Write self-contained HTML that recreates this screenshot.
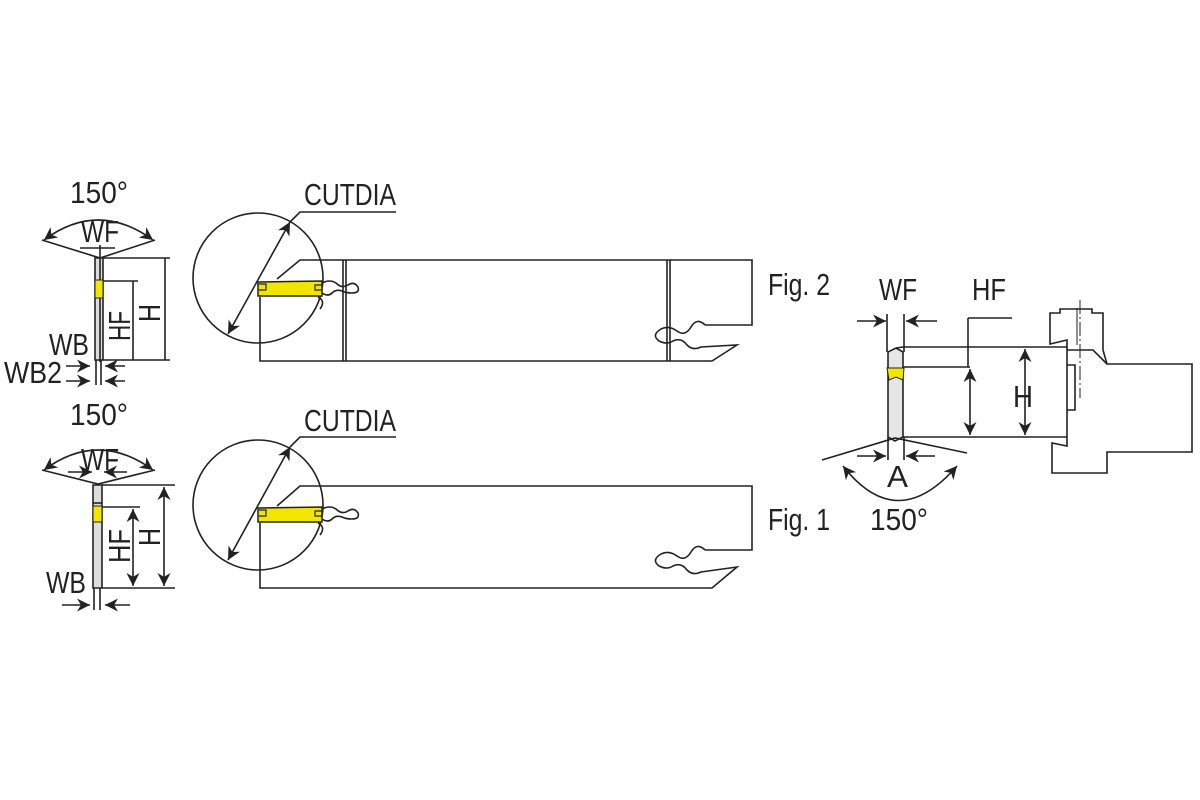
<!DOCTYPE html>
<html><head><meta charset="utf-8"><style>
html,body{margin:0;padding:0;background:#fff;}
svg{display:block}
text{font-family:"Liberation Sans",sans-serif;fill:#222;}
</style></head><body>
<svg width="1200" height="800" viewBox="0 0 1200 800" xmlns="http://www.w3.org/2000/svg">
<defs>
<marker id="a" viewBox="0 0 10 10" refX="10" refY="5" markerWidth="13" markerHeight="13" orient="auto-start-reverse" markerUnits="userSpaceOnUse"><path d="M0,0 L10,5 L0,10 L3,5z" fill="#222"/></marker>
</defs>
<g stroke="#222" stroke-width="1.6" fill="none">
<!-- ===== FIG 2 main ===== -->
<circle cx="258" cy="278" r="65"/>
<path d="M277,279 L300,260 L752,260 L752,325 L705,325"/>
<path d="M705,325 q-8,-8 -14,2 q-6,10 -14,4 q-8,-6 -16,-2 q-10,6 -2,12 q8,4 14,0 q8,-4 14,4 q6,6 14,2 L737,345 L712,361 L260,361 L260,297"/>
<path d="M343,260 V361 M346,260 V361 M667,260 V361 M670,260 V361"/>
<path d="M322,283 q8,-4 14,0 q6,6 12,2 q6,-4 10,2 q2,6 -6,6 q-6,0 -10,-2 q-6,-2 -10,2 q-4,4 -10,0"/>
<path d="M318,297 q8,4 2,12"/>
<line x1="228" y1="334" x2="290" y2="222" marker-start="url(#a)" marker-end="url(#a)"/>
<path d="M290,222 L300,212 L396,212"/>
<!-- ===== FIG 1 main ===== -->
<circle cx="258" cy="505" r="65"/>
<path d="M277,506 L300,486 L752,486 L752,550 L705,550"/>
<path d="M705,550 q-8,-8 -14,2 q-6,10 -14,4 q-8,-6 -16,-2 q-10,6 -2,12 q8,4 14,0 q8,-4 14,4 q6,6 14,2 L737,567 L712,588 L260,588 L260,523"/>
<path d="M322,509 q8,-4 14,0 q6,6 12,2 q6,-4 10,2 q2,6 -6,6 q-6,0 -10,-2 q-6,-2 -10,2 q-4,4 -10,0"/>
<path d="M318,523 q8,4 2,12"/>
<line x1="228" y1="560" x2="290" y2="447" marker-start="url(#a)" marker-end="url(#a)"/>
<path d="M290,447 L300,437 L396,437"/>
<!-- ===== left view fig2 ===== -->
<path d="M42,240 L100,258 L155,240"/>
<path d="M44,240 Q98,200 153,240" marker-start="url(#a)" marker-end="url(#a)"/>
<path d="M95,258 V360 H103 V258 Z" fill="#ddd"/>
<path d="M100,245 V362 M80,248 H115"/>
<path d="M103,258 H170 M103,281 H138 M103,360 H170 M133,281 V360 M165,258 V360"/>
<path d="M66,366 H90" marker-end="url(#a)"/><path d="M125,366 H105" marker-end="url(#a)"/>
<path d="M66,381 H90" marker-end="url(#a)"/><path d="M125,381 H105" marker-end="url(#a)"/>
<path d="M96,360 V385 M101,360 V385"/>
<!-- ===== left view fig1 ===== -->
<path d="M42,470 L98,484 L155,470"/>
<path d="M44,470 Q98,430 153,470" marker-start="url(#a)" marker-end="url(#a)"/>
<path d="M68,472 H92" marker-end="url(#a)"/><path d="M127,472 H104" marker-end="url(#a)"/>
<path d="M93,485 V588 H102 V485 Z" fill="#ddd"/>
<path d="M93,503 H102"/>
<path d="M102,485 H175 M102,507 H140 M102,588 H175"/>
<line x1="133" y1="509" x2="133" y2="586" marker-start="url(#a)" marker-end="url(#a)"/>
<line x1="164" y1="487" x2="164" y2="586" marker-start="url(#a)" marker-end="url(#a)"/>
<path d="M62,605 H90" marker-end="url(#a)"/><path d="M130,605 H105" marker-end="url(#a)"/>
<path d="M94,588 V610 M100,588 V610"/>
<!-- ===== right view ===== -->
<path d="M888,352 V437 L895,441 L903,437 V352 L896,348 Z" fill="#e6e6e6"/>
<path d="M896,348 L903,347 L1067,347 M903,437 L1067,437"/>
<path d="M887,314 V352 M904,314 V352"/>
<path d="M857,321 H886" marker-end="url(#a)"/><path d="M937,321 H906" marker-end="url(#a)"/>
<path d="M903,367 H970 M968,318 V367 M968,318 H1012"/>
<line x1="970" y1="369" x2="970" y2="435" marker-start="url(#a)" marker-end="url(#a)"/>
<line x1="1025" y1="349" x2="1025" y2="435" marker-start="url(#a)" marker-end="url(#a)"/>
<path d="M822,460 L895,438 L967,453"/>
<path d="M857,456 H886" marker-end="url(#a)"/><path d="M935,456 H906" marker-end="url(#a)"/>
<path d="M888,437 V460 M904,437 V460"/>
<path d="M843,466 Q897,535 957,466" marker-start="url(#a)" marker-end="url(#a)"/>
<path d="M1067,350 V340 L1050,344 V313 L1060,313 V309 L1092,309 V313 L1103,313 V350 L1107,364 H1192 V452 H1107 V473 H1052 V443 L1067,446 V437"/>
<path d="M1067,350 V437 M1067,350 H1093 L1107,364 M1067,365 H1075 V410 H1067"/>
<path d="M1080,300 V398" stroke-dasharray="14,3,2,3" stroke-width="1"/>
<path d="M1077,308 V345" stroke-width="1"/>
</g>
<!-- inserts -->
<path d="M258,282 L322,281 L322,296 L258,296 Z" fill="#f2e600" stroke="#222" stroke-width="1.5"/>
<path d="M259,284 H266 V290 H259 M322,285 H315 V290 H322" fill="none" stroke="#222" stroke-width="1.2"/>
<path d="M258,508 L322,507 L322,522 L258,522 Z" fill="#f2e600" stroke="#222" stroke-width="1.5"/>
<path d="M259,510 H266 V516 H259 M322,511 H315 V516 H322" fill="none" stroke="#222" stroke-width="1.2"/>
<rect x="95" y="280" width="8" height="18" fill="#f2e600" stroke="#222" stroke-width="1"/>
<rect x="93" y="506" width="9" height="16" fill="#f2e600" stroke="#222" stroke-width="1"/>
<path d="M887,368 H904 L903,380 L896,377 L889,380 Z" fill="#f2e600" stroke="#222" stroke-width="1"/>
<!-- text -->
<g font-size="31">
<text x="304" y="205" textLength="92" lengthAdjust="spacingAndGlyphs">CUTDIA</text>
<text x="304" y="431" textLength="92" lengthAdjust="spacingAndGlyphs">CUTDIA</text>
<text x="70" y="203" textLength="58" lengthAdjust="spacingAndGlyphs">150°</text>
<text x="70" y="425" textLength="58" lengthAdjust="spacingAndGlyphs">150°</text>
<text x="81" y="242" textLength="38" lengthAdjust="spacingAndGlyphs">WF</text>
<text x="81" y="470" textLength="38" lengthAdjust="spacingAndGlyphs">WF</text>
<text x="49" y="355" textLength="40" lengthAdjust="spacingAndGlyphs">WB</text>
<text x="4" y="383" textLength="58" lengthAdjust="spacingAndGlyphs">WB2</text>
<text x="46" y="593" textLength="40" lengthAdjust="spacingAndGlyphs">WB</text>
<text transform="translate(130,341) rotate(-90)" textLength="30" lengthAdjust="spacingAndGlyphs">HF</text>
<text transform="translate(160,322) rotate(-90)" textLength="18" lengthAdjust="spacingAndGlyphs">H</text>
<text transform="translate(130,563) rotate(-90)" textLength="34" lengthAdjust="spacingAndGlyphs">HF</text>
<text transform="translate(160,546) rotate(-90)" textLength="18" lengthAdjust="spacingAndGlyphs">H</text>
<text x="768" y="295" textLength="62" lengthAdjust="spacingAndGlyphs">Fig. 2</text>
<text x="768" y="530" textLength="62" lengthAdjust="spacingAndGlyphs">Fig. 1</text>
<text x="879" y="300" textLength="38" lengthAdjust="spacingAndGlyphs">WF</text>
<text x="972" y="300" textLength="34" lengthAdjust="spacingAndGlyphs">HF</text>
<text x="1013" y="407" textLength="20" lengthAdjust="spacingAndGlyphs">H</text>
<text x="887" y="487" textLength="21" lengthAdjust="spacingAndGlyphs">A</text>
<text x="870" y="530" textLength="58" lengthAdjust="spacingAndGlyphs">150°</text>
</g>
</svg>
</body></html>
